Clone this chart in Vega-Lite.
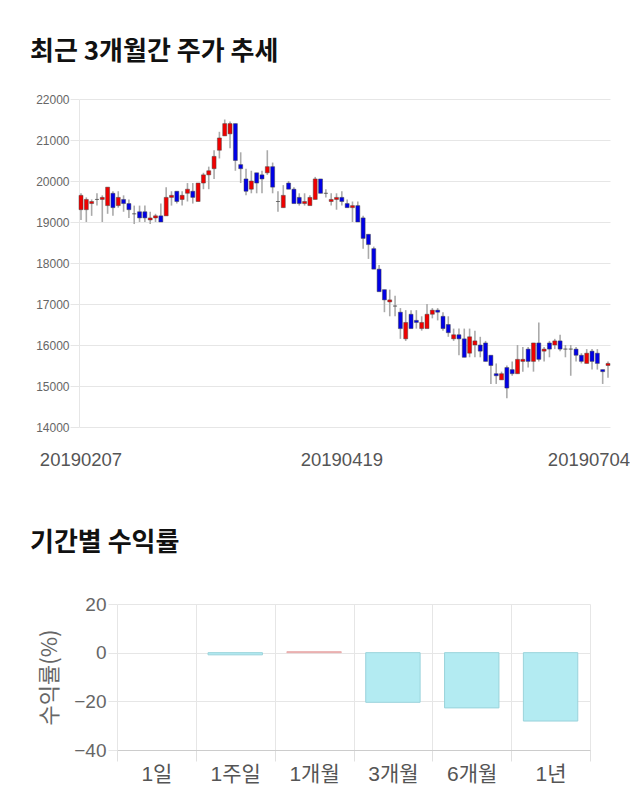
{
  "$schema": "https://vega.github.io/schema/vega-lite/v6.json",
  "background": "white",
  "padding": {"left": 30, "top": 39, "right": 0, "bottom": 0},
  "config": {"view": {"stroke": null}, "font": "Liberation Sans"},
  "bounds": "flush",
  "spacing": 177,
  "datasets": {
    "stock": [
      {"date":"20190207","open":19300,"high":19700,"low":19050,"close":19650},
      {"date":"20190208","open":19300,"high":19600,"low":19000,"close":19550},
      {"date":"20190211","open":19450,"high":19550,"low":19150,"close":19500},
      {"date":"20190212","open":19550,"high":19700,"low":19400,"close":19550},
      {"date":"20190213","open":19550,"high":19650,"low":19000,"close":19600},
      {"date":"20190214","open":19400,"high":19850,"low":19200,"close":19850},
      {"date":"20190215","open":19700,"high":19750,"low":19150,"close":19350},
      {"date":"20190218","open":19400,"high":19750,"low":19350,"close":19600},
      {"date":"20190219","open":19550,"high":19650,"low":19250,"close":19450},
      {"date":"20190220","open":19450,"high":19550,"low":19100,"close":19300},
      {"date":"20190221","open":19200,"high":19400,"low":18950,"close":19200},
      {"date":"20190222","open":19250,"high":19400,"low":19000,"close":19100},
      {"date":"20190225","open":19250,"high":19400,"low":19000,"close":19100},
      {"date":"20190226","open":19050,"high":19250,"low":18950,"close":19100},
      {"date":"20190227","open":19100,"high":19200,"low":19000,"close":19150},
      {"date":"20190228","open":19150,"high":19450,"low":19000,"close":19000},
      {"date":"20190304","open":19150,"high":19850,"low":19150,"close":19600},
      {"date":"20190305","open":19600,"high":19750,"low":19400,"close":19650},
      {"date":"20190306","open":19750,"high":19750,"low":19450,"close":19500},
      {"date":"20190307","open":19550,"high":19750,"low":19400,"close":19650},
      {"date":"20190308","open":19700,"high":19950,"low":19500,"close":19800},
      {"date":"20190311","open":19750,"high":19950,"low":19450,"close":19600},
      {"date":"20190312","open":19500,"high":19950,"low":19500,"close":19950},
      {"date":"20190313","open":19950,"high":20200,"low":19800,"close":20150},
      {"date":"20190314","open":20150,"high":20350,"low":19800,"close":20250},
      {"date":"20190318","open":20300,"high":20750,"low":20050,"close":20600},
      {"date":"20190319","open":20750,"high":21200,"low":20550,"close":21050},
      {"date":"20190320","open":21100,"high":21500,"low":21100,"close":21400},
      {"date":"20190321","open":21150,"high":21450,"low":20800,"close":21400},
      {"date":"20190322","open":21400,"high":21400,"low":20250,"close":20500},
      {"date":"20190325","open":20400,"high":20700,"low":19950,"close":20300},
      {"date":"20190326","open":20050,"high":20300,"low":19650,"close":19750},
      {"date":"20190327","open":19800,"high":20250,"low":19700,"close":20000},
      {"date":"20190328","open":20200,"high":20200,"low":19700,"close":19950},
      {"date":"20190329","open":20150,"high":20250,"low":19700,"close":20050},
      {"date":"20190401","open":20200,"high":20750,"low":20150,"close":20350},
      {"date":"20190402","open":20350,"high":20450,"low":19700,"close":19850},
      {"date":"20190403","open":19500,"high":19750,"low":19250,"close":19500},
      {"date":"20190404","open":19350,"high":19900,"low":19350,"close":19650},
      {"date":"20190405","open":19950,"high":20000,"low":19800,"close":19800},
      {"date":"20190408","open":19800,"high":19850,"low":19450,"close":19450},
      {"date":"20190409","open":19600,"high":19700,"low":19400,"close":19450},
      {"date":"20190410","open":19450,"high":19700,"low":19400,"close":19500},
      {"date":"20190411","open":19400,"high":19650,"low":19400,"close":19600},
      {"date":"20190412","open":19550,"high":20100,"low":19550,"close":20050},
      {"date":"20190415","open":20050,"high":20050,"low":19700,"close":19700},
      {"date":"20190416","open":19700,"high":19800,"low":19600,"close":19700},
      {"date":"20190417","open":19500,"high":19700,"low":19400,"close":19550},
      {"date":"20190418","open":19550,"high":19700,"low":19300,"close":19600},
      {"date":"20190419","open":19600,"high":19750,"low":19400,"close":19500},
      {"date":"20190422","open":19450,"high":19550,"low":19350,"close":19350},
      {"date":"20190423","open":19350,"high":19500,"low":19000,"close":19400},
      {"date":"20190424","open":19400,"high":19500,"low":19000,"close":19000},
      {"date":"20190425","open":19100,"high":19150,"low":18350,"close":18600},
      {"date":"20190426","open":18700,"high":18700,"low":18100,"close":18450},
      {"date":"20190429","open":18350,"high":18400,"low":17850,"close":17850},
      {"date":"20190430","open":17850,"high":17950,"low":17300,"close":17300},
      {"date":"20190502","open":17350,"high":17350,"low":16800,"close":17100},
      {"date":"20190503","open":17050,"high":17350,"low":16700,"close":17100},
      {"date":"20190507","open":16950,"high":17200,"low":16700,"close":16950},
      {"date":"20190508","open":16800,"high":16900,"low":16150,"close":16400},
      {"date":"20190509","open":16150,"high":16850,"low":16100,"close":16550},
      {"date":"20190510","open":16750,"high":16850,"low":16400,"close":16400},
      {"date":"20190513","open":16600,"high":16850,"low":16400,"close":16550},
      {"date":"20190514","open":16400,"high":16700,"low":16350,"close":16550},
      {"date":"20190515","open":16400,"high":17000,"low":16400,"close":16750},
      {"date":"20190516","open":16750,"high":16900,"low":16650,"close":16850},
      {"date":"20190517","open":16850,"high":16900,"low":16600,"close":16800},
      {"date":"20190520","open":16700,"high":16800,"low":16350,"close":16400},
      {"date":"20190521","open":16500,"high":16700,"low":16200,"close":16300},
      {"date":"20190522","open":16150,"high":16400,"low":16100,"close":16250},
      {"date":"20190523","open":16250,"high":16400,"low":15750,"close":16150},
      {"date":"20190524","open":16150,"high":16400,"low":15700,"close":15700},
      {"date":"20190527","open":15800,"high":16400,"low":15700,"close":16200},
      {"date":"20190528","open":16000,"high":16350,"low":15700,"close":16100},
      {"date":"20190529","open":16000,"high":16200,"low":15700,"close":15850},
      {"date":"20190530","open":16050,"high":16100,"low":15600,"close":15600},
      {"date":"20190603","open":15750,"high":15750,"low":15050,"close":15500},
      {"date":"20190604","open":15300,"high":15550,"low":15050,"close":15250},
      {"date":"20190605","open":15150,"high":15350,"low":15150,"close":15300},
      {"date":"20190607","open":15450,"high":15500,"low":14700,"close":14950},
      {"date":"20190610","open":15400,"high":15600,"low":15250,"close":15300},
      {"date":"20190611","open":15300,"high":16000,"low":15300,"close":15650},
      {"date":"20190612","open":15600,"high":15950,"low":15350,"close":15650},
      {"date":"20190613","open":15900,"high":15950,"low":15450,"close":15600},
      {"date":"20190614","open":15600,"high":16050,"low":15350,"close":16050},
      {"date":"20190617","open":16050,"high":16550,"low":15600,"close":15650},
      {"date":"20190618","open":15850,"high":15950,"low":15600,"close":15900},
      {"date":"20190619","open":16050,"high":16100,"low":15700,"close":15900},
      {"date":"20190620","open":16000,"high":16150,"low":15900,"close":16100},
      {"date":"20190621","open":16100,"high":16250,"low":15850,"close":15900},
      {"date":"20190624","open":15900,"high":16000,"low":15700,"close":15900},
      {"date":"20190625","open":15900,"high":16000,"low":15250,"close":15900},
      {"date":"20190626","open":15900,"high":15950,"low":15600,"close":15750},
      {"date":"20190627","open":15750,"high":15800,"low":15550,"close":15600},
      {"date":"20190628","open":15550,"high":15900,"low":15550,"close":15800},
      {"date":"20190701","open":15850,"high":15900,"low":15400,"close":15600},
      {"date":"20190702","open":15800,"high":15900,"low":15400,"close":15550},
      {"date":"20190703","open":15400,"high":15400,"low":15050,"close":15350},
      {"date":"20190704","open":15500,"high":15600,"low":15200,"close":15550}
    ],
    "returns": [
      {"period":"1일","ret":0.0},
      {"period":"1주일","ret":-0.9},
      {"period":"1개월","ret":0.4},
      {"period":"3개월","ret":-20.4},
      {"period":"6개월","ret":-22.7},
      {"period":"1년","ret":-28.1}
    ]
  },
  "vconcat": [
    {
      "width": 531,
      "height": 328,
      "title": {"text": "최근 3개월간 주가 추세", "anchor": "start", "frame": "group", "dx": -49, "offset": 7, "baseline": "alphabetic", "font": "Noto Sans CJK KR", "fontSize": 26, "fontWeight": "bold", "color": "#111"},
      "data": {"name": "stock"},
      "encoding": {
        "x": {"field": "date", "type": "ordinal", "sort": null,
          "scale": {"paddingInner": 0.25, "paddingOuter": 0},
          "axis": {"values": ["20190207","20190419","20190704"], "title": null, "labelAngle": 0, "ticks": false, "domain": false, "grid": false,
            "labelFont": "Liberation Sans", "labelFontSize": 18.5, "labelColor": "#555", "labelPadding": 23,
            "labelOffset": {"condition": {"test": "datum.value === '20190704'", "value": -19}, "value": 0}}}
      },
      "layer": [
        {"mark": {"type": "rule", "color": "#aaa", "strokeWidth": 1.6},
          "encoding": {
            "y": {"field": "low", "type": "quantitative", "scale": {"domain": [14000, 22000], "nice": false},
              "axis": {"values": [14000,15000,16000,17000,18000,19000,20000,21000,22000], "format": "d", "title": null,
                "grid": true, "gridColor": "#e6e6e6", "domain": true, "domainColor": "#e6e6e6", "ticks": true, "tickColor": "#e6e6e6", "tickSize": 9,
                "labelFont": "Liberation Sans", "labelFontSize": 12, "labelColor": "#666", "labelPadding": 1}},
            "y2": {"field": "high"}}},
        {"mark": {"type": "bar", "stroke": "#444", "strokeWidth": 0.6, "strokeOpacity": 0.8},
          "encoding": {
            "y": {"field": "open", "type": "quantitative"},
            "y2": {"field": "close"},
            "color": {"condition": [{"test": "datum.close > datum.open", "value": "#f00000"}, {"test": "datum.close < datum.open", "value": "#0000e6"}], "value": "#555"}}}
      ]
    },
    {
      "bounds": "flush",
      "spacing": 20,
      "hconcat": [
        {"width": 18, "height": 146, "data": {"values": []}, "mark": "point"},
        {
          "width": 473,
          "height": 146,
          "title": {"text": "기간별 수익률", "anchor": "start", "frame": "group", "dx": -87, "offset": 18, "baseline": "alphabetic", "font": "Noto Sans CJK KR", "fontSize": 26, "fontWeight": "bold", "color": "#111"},
          "data": {"name": "returns"},
          "encoding": {
            "x": {"field": "period", "type": "nominal", "sort": null,
              "scale": {"paddingInner": 0, "paddingOuter": 0},
              "axis": {"title": null, "labelAngle": 0, "tickBand": "extent", "ticks": true, "tickSize": 11, "tickColor": "#e0e0e0",
                "grid": true, "gridColor": "#e6e6e6", "domain": true, "domainColor": "#ccc",
                "labelFont": "Liberation Sans, Noto Sans CJK KR", "labelFontSize": 21, "labelColor": "#555", "labelPadding": 2}}
          },
          "layer": [
            {"mark": {"type": "bar", "strokeWidth": 1, "width": {"band": 0.69}},
              "encoding": {
                "y": {"field": "ret", "type": "quantitative", "scale": {"domain": [-40, 20], "nice": false},
                  "axis": {"values": [-40,-20,0,20], "title": "수익률(%)", "titleFont": "Noto Sans CJK KR", "titleFontSize": 22, "titleFontWeight": "normal", "titleColor": "#666", "titlePadding": 12,
                    "grid": true, "gridColor": "#e6e6e6", "domain": false, "ticks": true, "tickColor": "#e6e6e6", "tickSize": 9,
                    "labelFontSize": 19, "labelColor": "#666", "labelPadding": 2}},
                "color": {"condition": {"test": "datum.ret > 0", "value": "#f6cccc"}, "value": "#b3ebf2"},
                "stroke": {"condition": {"test": "datum.ret > 0", "value": "#e8aaaa"}, "value": "#9ad3db"},
                "strokeOpacity": {"condition": {"test": "datum.ret == 0", "value": 0}, "value": 1}}},
            {"mark": {"type": "rule", "color": "#999", "strokeWidth": 1},
              "encoding": {"y": {"datum": 0}}}
          ]
        }
      ]
    }
  ]
}
